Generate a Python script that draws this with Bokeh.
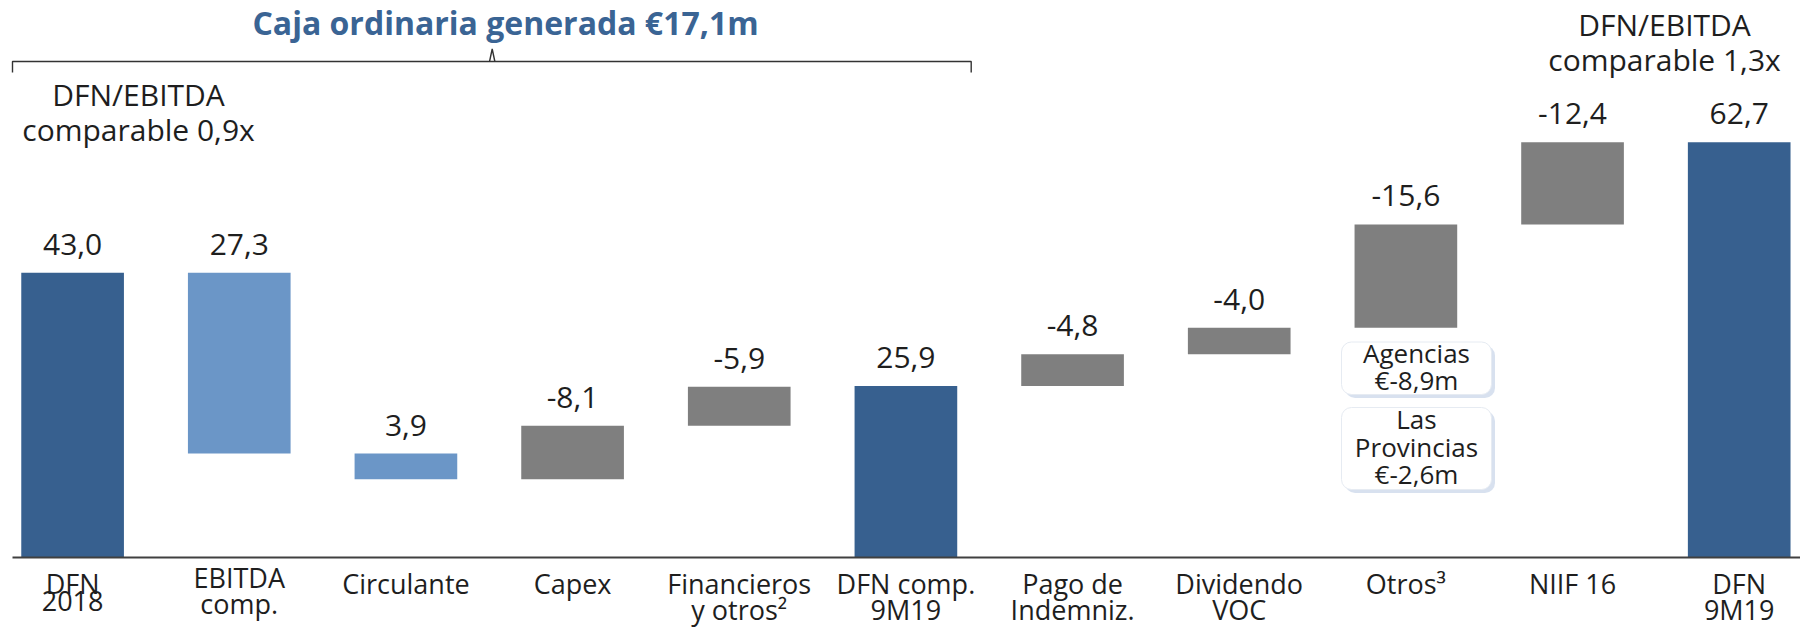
from bokeh.plotting import figure
from bokeh.models import Range1d, ColumnDataSource
from bokeh.core.properties import value
from bokeh.embed import file_html
from bokeh.resources import INLINE

# ---------------- data ----------------
categories = ["DFN\n2018", "EBITDA\ncomp.", "Circulante", "Capex", "Financieros\ny otros²",
              "DFN comp.\n9M19", "Pago de\nIndemniz.", "Dividendo\nVOC", "Otros³", "NIIF 16", "DFN\n9M19"]
values = [43.0, 27.3, 3.9, -8.1, -5.9, 25.9, -4.8, -4.0, -15.6, -12.4, 62.7]
kinds = ["total", "step", "step", "step", "step", "total", "step", "step", "step", "step", "total"]

title_text = "Caja ordinaria generada €17,1m"
ratio_left = ["DFN/EBITDA", "comparable 0,9x"]
ratio_right = ["DFN/EBITDA", "comparable 1,3x"]
callout_1 = ["Agencias", "€-8,9m"]
callout_2 = ["Las", "Provincias", "€-2,6m"]

# ---------------- styles ----------------
DARK = "#37608F"
LIGHT = "#6B96C7"
GREY = "#7F7F7F"
TXT = "#1E1E1E"
TITLE = "#3A6494"
FONT = value("Open Sans")

W, H = 1800, 627
AXIS_Y = 557.0        # screen row of the zero line
PX = 6.622            # pixels per unit
STEP = 166.66         # pixels per category
X0 = 72.1             # screen column of first category


def yv(py):
    """screen row -> data value (for annotations)"""
    return (AXIS_Y - py) / PX


def xv(px):
    return (px - X0) / STEP


# ---------------- waterfall geometry ----------------
xs = list(range(len(categories)))
bottoms, tops, colors = [], [], []
level = 0.0
for v, k in zip(values, kinds):
    if k == "total":
        bottoms.append(0.0)
        tops.append(v)
        level = v
        colors.append(DARK)
    else:
        new = level - v  # debt walk: positive cash flow reduces debt
        bottoms.append(min(level, new))
        tops.append(max(level, new))
        colors.append(LIGHT if v > 0 else GREY)
        level = new

labels = [f"{v:.1f}".replace(".", ",") for v in values]
src = ColumnDataSource(dict(x=xs, bottom=bottoms, top=tops, color=colors, label=labels))

p = figure(width=W, height=H, output_backend="svg", toolbar_location=None,
           x_range=Range1d(xv(0), xv(W)), y_range=Range1d(yv(H), yv(0)),
           min_border=0, min_border_left=0, min_border_right=0,
           min_border_top=0, min_border_bottom=0)
p.xaxis.visible = False
p.yaxis.visible = False
p.xgrid.visible = False
p.ygrid.visible = False
p.outline_line_color = None
p.background_fill_color = "white"
p.border_fill_color = "white"

p.vbar(x="x", bottom="bottom", top="top", width=0.616, fill_color="color",
       line_color=None, source=src)

# baseline
p.segment(x0=[xv(12)], y0=[0], x1=[xv(1800)], y1=[0], line_color="#404040", line_width=2)

# value labels
p.text(x="x", y="top", text="label", source=src, text_align="center",
       text_baseline="top", y_offset=-39, text_font=FONT,
       text_font_size="30px", text_color=TXT)

# category labels, one glyph row per text line
cx, ct, co = [], [], []
for i, c in enumerate(categories):
    base = 1 if i == 1 else 7
    for j, line in enumerate(c.split("\n")):
        cx.append(i)
        ct.append(line)
        co.append(base + 26 * j)
cat_src = ColumnDataSource(dict(x=cx, t=ct, off=co))
p.text(x="x", y=0, text="t", source=cat_src, text_align="center",
       text_baseline="top", y_offset="off", text_font=FONT,
       text_font_size="27px", text_color=TXT)

# bracket over the first six columns
br_l, br_r, br_mid = xv(12), xv(970.7), xv(491.7)
br_y, br_end, br_tip = yv(61.0), yv(72), yv(48.5)
p.multi_line(xs=[[br_l, br_l, br_r, br_r], [br_mid - 0.016, br_mid, br_mid + 0.016]],
             ys=[[br_end, br_y, br_y, br_end], [br_y, br_tip, br_y]],
             line_color="#333333", line_width=1.4)

# title
p.text(x=[xv(505)], y=[yv(0)], text=[title_text], text_align="center",
       text_baseline="top", text_font=FONT, text_font_style="bold",
       text_font_size="32px", text_color=TITLE)


def lines(px, baselines, texts, size):
    p.text(x=[xv(px)] * len(texts), y=[yv(b - 1.01 * size) for b in baselines], text=texts,
           text_align="center", text_baseline="top", text_font=FONT,
           text_font_size=f"{size}px", text_color=TXT)


# DFN/EBITDA notes
lines(138, [104, 139], ratio_left, 30)
lines(1664, [34, 69], ratio_right, 30)

# callout boxes under "Otros"
bx_l, bx_r = xv(1341), xv(1491)
box_tops = [yv(341.5), yv(407)]
box_bots = [yv(394), yv(489)]
sh = 3.5 / STEP
p.quad(left=[bx_l + sh] * 2, right=[bx_r + sh] * 2,
       top=[t - 3.5 / PX for t in box_tops], bottom=[b - 3.5 / PX for b in box_bots],
       fill_color="#C3D1E7", fill_alpha=0.65, line_color=None, border_radius=10)
p.quad(left=[bx_l] * 2, right=[bx_r] * 2, top=box_tops, bottom=box_bots,
       fill_color="white", line_color="#E6EBF2", line_width=1, border_radius=10)
lines(1416, [361, 388], callout_1, 26)
lines(1416, [427, 454.5, 482], callout_2, 26)

open("out.html", "w").write(file_html(p, INLINE))
